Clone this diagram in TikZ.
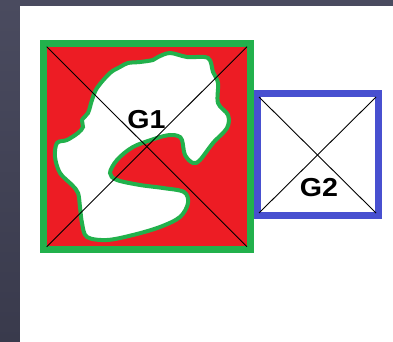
\documentclass[tikz,border=0pt]{standalone}
\usepackage{fontspec}
\setmainfont{Liberation Sans}
\usetikzlibrary{positioning}
\definecolor{paintred}{HTML}{ED1C24}
\definecolor{paintgreen}{HTML}{22B14C}
\definecolor{paintblue}{HTML}{4850D0}
\definecolor{slatetop}{HTML}{4A4B5F}
\definecolor{slatebot}{HTML}{393A4C}

\begin{document}
\begin{tikzpicture}[x=1pt, y=-1pt,
    rimline/.style={line width=7pt},
    crossline/.style={black, line width=0.9pt},
    gtext/.style={font=\bfseries\fontsize{26}{26}\selectfont, inner sep=0pt, xscale=1.1}
]
\useasboundingbox (0,0) rectangle (393,342);
\shade[top color=slatetop, bottom color=slatebot] (0,0) rectangle (393,342);
\fill[white] (20,6) rectangle (393,342);

% G2 box
\draw[rimline, paintblue, fill=white] (257.5,93.5) rectangle (378.5,215.5);
\coordinate (b-nw) at (259,97);
\coordinate (b-ne) at (376,97);
\coordinate (b-sw) at (259,213);
\coordinate (b-se) at (376,213);

% G1 box with the blob
\draw[rimline, paintgreen, fill=paintred] (43.5,43.5) rectangle (250.5,249.8);
\draw[paintgreen, line width=4pt, fill=white] plot[smooth cycle, tension=0.55] coordinates {
    (128,63) (140,62) (153,60) (158,57) (170,53) (187,57) (208,58) (213,72)
    (218,83) (218,103) (228,115) (227,128) (213,143) (200,160) (193,163)
    (185,155) (182,140) (178,136) (170,135) (157,138) (133,147) (117,160)
    (110,173) (117,180) (140,185) (163,188) (184,192) (188,203) (180,217)
    (160,227) (133,235) (107,240) (87,237) (82,223) (80,207) (78,193)
    (72,185) (60,173) (55,157) (57,143) (67,140) (78,133) (83,127) (82,120)
    (88,113) (92,100) (97,88) (110,73) (120,67)};
\coordinate (a-nw) at (46.7,46.7);
\coordinate (a-ne) at (247,46.7);
\coordinate (a-sw) at (46.7,246.7);
\coordinate (a-se) at (247,246.7);

% diagonals
\draw[crossline] (a-nw) -- (a-se);
\draw[crossline] (a-ne) -- (a-sw);
\draw[crossline] (b-nw) -- (b-se);
\draw[crossline] (b-ne) -- (b-sw);

\node (g1) [gtext] at (146.5,119.5) {G1};
\node (g2) [gtext] at (319,187.5) {G2};

\end{tikzpicture}
\end{document}
